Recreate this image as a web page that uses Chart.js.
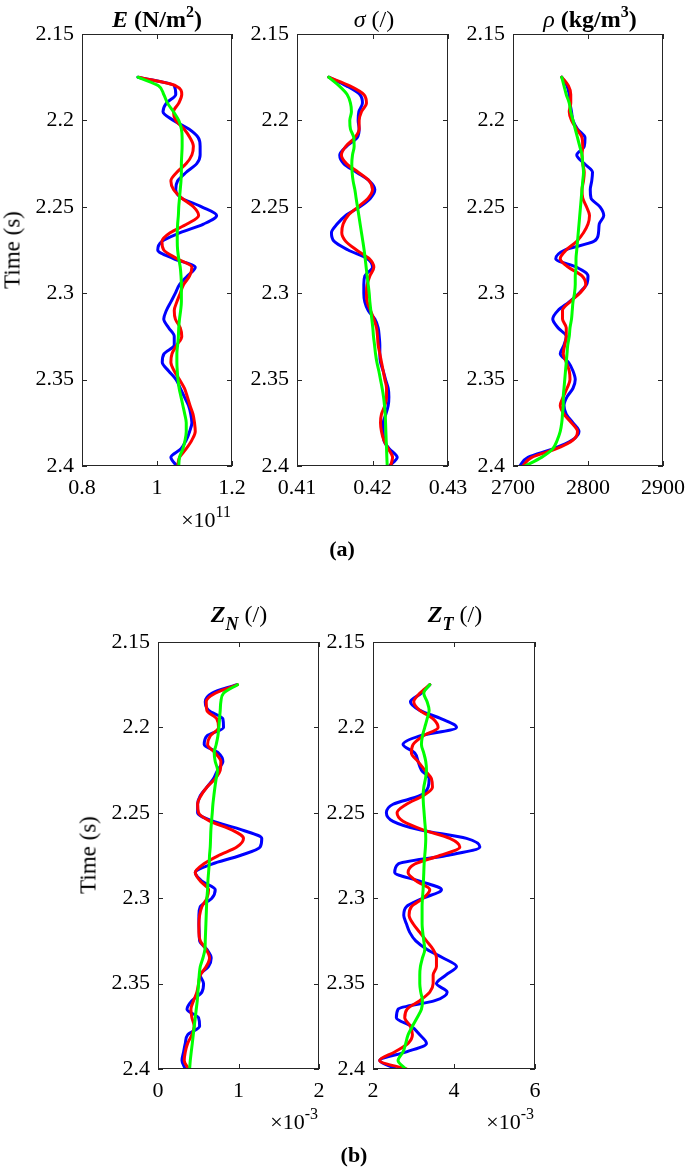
<!DOCTYPE html>
<html>
<head>
<meta charset="utf-8">
<script src="https://cdn.jsdelivr.net/npm/chart.js@4.4.1/dist/chart.umd.min.js"></script>
<style>
  html, body { margin: 0; padding: 0; background: #fff; }
  #page {
    position: relative; width: 685px; height: 1169px; overflow: hidden;
    font-family: 'Liberation Serif', 'Times New Roman', serif; color: #000;
  }
  canvas { position: absolute; }
  .note { position: absolute; white-space: nowrap; line-height: 22px; font-size: 22px; }
  .ttl { position: absolute; white-space: nowrap; line-height: 24px; font-size: 24px; transform: translateX(-50%); }
  .center { transform: translateX(-50%); }
  .right { transform: translateX(-100%); }
  .sup { font-size: 16px; position: relative; top: -10px; }
  .sub { font-size: 18px; position: relative; top: 8px; }
  .ylab { position: absolute; white-space: nowrap; font-size: 23px; line-height: 23px;
          transform: translate(-50%, -50%) rotate(-90deg); }
</style>
</head>
<body>
<div id="page">
  <canvas id="cE"></canvas>
  <canvas id="cSigma"></canvas>
  <canvas id="cRho"></canvas>
  <canvas id="cZn"></canvas>
  <canvas id="cZt"></canvas>

  <div class="ttl" style="left:157px;top:7px;font-weight:bold"><i>E</i> (N/m<span class="sup">2</span>)</div>
  <div class="ttl" style="left:374px;top:7px"><i>σ</i> (/)</div>
  <div class="ttl" style="left:590px;top:7px"><i>ρ</i> <b>(kg/m<span class="sup">3</span>)</b></div>
  <div class="ttl" style="left:239px;top:602px"><b><i>Z</i><span class="sub"><i>N</i></span></b> (/)</div>
  <div class="ttl" style="left:455px;top:602px"><b><i>Z</i><span class="sub"><i>T</i></span></b> (/)</div>

  <div class="ylab" style="left:12px;top:250px">Time (s)</div>
  <div class="ylab" style="left:88px;top:855px">Time (s)</div>

  <div class="note right" style="left:231px;top:509px">×10<span class="sup">11</span></div>
  <div class="note right" style="left:318px;top:1111px">×10<span class="sup">-3</span></div>
  <div class="note right" style="left:534px;top:1111px">×10<span class="sup">-3</span></div>

  <div class="note center" style="left:342px;top:538px;font-weight:bold">(a)</div>
  <div class="note center" style="left:354px;top:1144px;font-weight:bold">(b)</div>
</div>

<script>
// ---- data ---------------------------------------------------------------
const timeS = [2.175, 2.18, 2.185, 2.19, 2.195, 2.2, 2.205, 2.21, 2.215, 2.22,
  2.225, 2.23, 2.235, 2.24, 2.245, 2.25, 2.255, 2.26, 2.265, 2.27,
  2.275, 2.28, 2.285, 2.29, 2.295, 2.3, 2.305, 2.31, 2.315, 2.32,
  2.325, 2.33, 2.335, 2.34, 2.345, 2.35, 2.355, 2.36, 2.365, 2.37,
  2.375, 2.38, 2.385, 2.39, 2.395, 2.4];
const timeTicks = [2.15, 2.2, 2.25, 2.3, 2.35, 2.4];
const timeLabels = ['2.15', '2.2', '2.25', '2.3', '2.35', '2.4'];

// E in units of 1e11 N/m^2
const eBlue = [0.949, 1.046, 1.050, 1.025, 1.016, 1.044, 1.085, 1.110, 1.115, 1.115,
  1.106, 1.078, 1.055, 1.050, 1.066, 1.119, 1.159, 1.124, 1.062, 1.013,
  1.002, 1.044, 1.102, 1.081, 1.060, 1.049, 1.037, 1.025, 1.018, 1.031,
  1.046, 1.046, 1.019, 1.014, 1.031, 1.051, 1.062, 1.073, 1.084, 1.090,
  1.093, 1.087, 1.078, 1.064, 1.037, 1.053];
const eRed = [0.951, 1.050, 1.066, 1.058, 1.044, 1.050, 1.072, 1.088, 1.097, 1.093,
  1.078, 1.053, 1.037, 1.044, 1.066, 1.097, 1.111, 1.080, 1.035, 1.013,
  1.018, 1.053, 1.093, 1.087, 1.071, 1.062, 1.053, 1.046, 1.049, 1.062,
  1.066, 1.053, 1.040, 1.037, 1.046, 1.060, 1.073, 1.081, 1.088, 1.096,
  1.100, 1.102, 1.093, 1.078, 1.060, 1.055];
const eGreen = [0.949, 1.004, 1.018, 1.028, 1.044, 1.058, 1.065, 1.067, 1.067, 1.066,
  1.065, 1.065, 1.064, 1.062, 1.060, 1.058, 1.057, 1.055, 1.054, 1.054,
  1.055, 1.058, 1.062, 1.064, 1.065, 1.065, 1.065, 1.063, 1.060, 1.058,
  1.057, 1.055, 1.053, 1.053, 1.054, 1.056, 1.059, 1.064, 1.069, 1.074,
  1.078, 1.078, 1.075, 1.069, 1.060, 1.058];
const eTicks = [0.8, 1, 1.2];
const eLabels = ['0.8', '1', '1.2'];

const sigmaBlue = [0.41420, 0.41655, 0.41832, 0.41867, 0.41819, 0.41810, 0.41823, 0.41797, 0.41655, 0.41566,
  0.41619, 0.41788, 0.41956, 0.42031, 0.41973, 0.41832, 0.41646, 0.41531, 0.41456, 0.41491,
  0.41677, 0.41929, 0.42000, 0.41898, 0.41885, 0.41885, 0.41898, 0.41943, 0.42031, 0.42075,
  0.42089, 0.42097, 0.42097, 0.42106, 0.42142, 0.42173, 0.42208, 0.42217, 0.42208, 0.42177,
  0.42142, 0.42142, 0.42150, 0.42221, 0.42327, 0.42221];
const sigmaRed = [0.41420, 0.41699, 0.41885, 0.41920, 0.41854, 0.41823, 0.41823, 0.41766, 0.41646, 0.41588,
  0.41655, 0.41810, 0.41956, 0.42000, 0.41943, 0.41810, 0.41677, 0.41611, 0.41593, 0.41646,
  0.41788, 0.41956, 0.42018, 0.41965, 0.41929, 0.41920, 0.41929, 0.41973, 0.42018, 0.42053,
  0.42066, 0.42075, 0.42097, 0.42119, 0.42142, 0.42164, 0.42186, 0.42186, 0.42164, 0.42119,
  0.42106, 0.42119, 0.42150, 0.42208, 0.42266, 0.42239];
const sigmaGreen = [0.41420, 0.41558, 0.41664, 0.41708, 0.41721, 0.41699, 0.41708, 0.41752, 0.41757, 0.41735,
  0.41726, 0.41730, 0.41743, 0.41766, 0.41783, 0.41801, 0.41819, 0.41836, 0.41854, 0.41872,
  0.41889, 0.41903, 0.41916, 0.41929, 0.41943, 0.41956, 0.41965, 0.41978, 0.41991, 0.42004,
  0.42013, 0.42027, 0.42040, 0.42058, 0.42084, 0.42106, 0.42128, 0.42146, 0.42159, 0.42168,
  0.42173, 0.42177, 0.42181, 0.42186, 0.42190, 0.42195];
const sigmaTicks = [0.41, 0.42, 0.43];
const sigmaLabels = ['0.41', '0.42', '0.43'];

// density, kg/m^3
const rhoBlue = [2765, 2772, 2775, 2776, 2778, 2780, 2786, 2796, 2795, 2785,
  2795, 2806, 2805, 2803, 2804, 2816, 2821, 2815, 2814, 2808,
  2769, 2757, 2785, 2800, 2798, 2788, 2775, 2760, 2753, 2760,
  2771, 2768, 2763, 2774, 2780, 2783, 2780, 2772, 2768, 2771,
  2780, 2788, 2779, 2754, 2720, 2709];
const rhoRed = [2765, 2774, 2777, 2777, 2775, 2778, 2785, 2792, 2793, 2792,
  2793, 2795, 2794, 2792, 2793, 2798, 2802, 2800, 2794, 2785,
  2771, 2763, 2774, 2792, 2797, 2789, 2776, 2766, 2766, 2771,
  2771, 2769, 2767, 2771, 2775, 2776, 2772, 2767, 2763, 2768,
  2778, 2786, 2780, 2758, 2725, 2713];
const rhoGreen = [2765, 2768, 2771, 2775, 2777, 2780, 2783, 2786, 2789, 2792,
  2793, 2794, 2793, 2792, 2791, 2790, 2789, 2788, 2787, 2786,
  2785, 2784, 2784, 2783, 2783, 2782, 2780, 2779, 2778, 2776,
  2775, 2773, 2772, 2771, 2770, 2769, 2768, 2767, 2767, 2766,
  2765, 2763, 2759, 2753, 2738, 2716];
const rhoTicks = [2700, 2800, 2900];
const rhoLabels = ['2700', '2800', '2900'];

// Z_N and Z_T in units of 1e-3
const znBlue = [0.979, 0.669, 0.587, 0.628, 0.806, 0.814, 0.607, 0.574, 0.752, 0.806,
  0.740, 0.690, 0.607, 0.525, 0.492, 0.492, 0.690, 1.041, 1.289, 1.269,
  1.021, 0.669, 0.463, 0.545, 0.711, 0.669, 0.525, 0.508, 0.508, 0.512,
  0.517, 0.607, 0.661, 0.628, 0.525, 0.566, 0.545, 0.421, 0.360, 0.504,
  0.517, 0.368, 0.339, 0.318, 0.298, 0.339];
const znRed = [0.988, 0.711, 0.599, 0.607, 0.731, 0.752, 0.649, 0.616, 0.711, 0.781,
  0.773, 0.711, 0.607, 0.533, 0.492, 0.504, 0.649, 0.917, 1.062, 0.979,
  0.752, 0.566, 0.463, 0.525, 0.628, 0.607, 0.545, 0.517, 0.508, 0.508,
  0.525, 0.599, 0.640, 0.599, 0.525, 0.504, 0.483, 0.442, 0.409, 0.421,
  0.450, 0.421, 0.368, 0.339, 0.326, 0.380];
const znGreen = [0.988, 0.814, 0.781, 0.773, 0.764, 0.756, 0.744, 0.723, 0.698, 0.711,
  0.740, 0.723, 0.707, 0.694, 0.682, 0.674, 0.665, 0.657, 0.653, 0.649,
  0.640, 0.636, 0.628, 0.620, 0.616, 0.607, 0.603, 0.599, 0.595, 0.591,
  0.587, 0.583, 0.558, 0.525, 0.512, 0.504, 0.496, 0.488, 0.475, 0.463,
  0.450, 0.438, 0.426, 0.413, 0.401, 0.393];
const znTicks = [0, 1, 2];
const znLabels = ['0', '1', '2'];

const ztBlue = [3.402, 3.196, 2.924, 3.155, 3.691, 4.062, 3.155, 2.742, 3.031, 3.113,
  3.196, 3.386, 3.361, 3.155, 2.495, 2.330, 2.495, 3.155, 4.309, 4.639,
  3.814, 2.619, 2.536, 3.155, 3.691, 3.237, 2.825, 2.759, 2.825, 2.907,
  3.056, 3.336, 3.732, 4.062, 3.798, 3.567, 3.831, 3.526, 2.619, 2.577,
  2.948, 3.155, 3.320, 2.825, 2.165, 2.577];
const ztRed = [3.402, 3.155, 3.006, 3.155, 3.485, 3.608, 3.237, 2.990, 2.948, 3.113,
  3.278, 3.443, 3.468, 3.237, 2.825, 2.594, 2.742, 3.237, 3.897, 4.144,
  3.649, 3.031, 2.866, 3.072, 3.402, 3.237, 2.948, 2.891, 2.990, 3.155,
  3.320, 3.485, 3.567, 3.567, 3.485, 3.485, 3.402, 3.155, 2.841, 2.784,
  2.924, 2.973, 2.866, 2.536, 2.165, 2.825];
const ztGreen = [3.402, 3.254, 3.336, 3.386, 3.336, 3.278, 3.221, 3.196, 3.254, 3.303,
  3.320, 3.295, 3.254, 3.237, 3.245, 3.262, 3.278, 3.295, 3.303, 3.295,
  3.278, 3.262, 3.254, 3.245, 3.237, 3.221, 3.212, 3.212, 3.212, 3.229,
  3.254, 3.278, 3.221, 3.171, 3.155, 3.155, 3.179, 3.221, 3.196, 3.089,
  2.973, 2.866, 2.808, 2.742, 2.619, 2.808];
const ztTicks = [2, 4, 6];
const ztLabels = ['2', '4', '6'];

// ---- styling ------------------------------------------------------------
const COLORS = { blue: '#0000ff', red: '#ff0000', green: '#00ff00', axis: '#262626', text: '#000' };
const TICK_FONT = { family: "'Liberation Serif', 'Times New Roman', serif", size: 22 };
const LINE_W = 3;
const ML = 80, MR = 34, MT = 14, MB = 44;   // canvas margins around the plot area

// MATLAB-like box with inward ticks on all four sides
const boxPlugin = {
  id: 'matlabBox',
  afterDatasetsDraw(chart) {
    const { ctx, chartArea: a, scales } = chart;
    const tl = 5;
    ctx.save();
    ctx.strokeStyle = COLORS.axis;
    ctx.lineWidth = 1;
    ctx.strokeRect(a.left + 0.5, a.top + 0.5, a.right - a.left - 1, a.bottom - a.top - 1);
    ctx.beginPath();
    scales.x.ticks.forEach((t) => {
      const px = Math.round(scales.x.getPixelForValue(t.value)) + 0.5;
      ctx.moveTo(px, a.bottom); ctx.lineTo(px, a.bottom - tl);
      ctx.moveTo(px, a.top); ctx.lineTo(px, a.top + tl);
    });
    scales.y.ticks.forEach((t) => {
      const py = Math.round(scales.y.getPixelForValue(t.value)) + 0.5;
      ctx.moveTo(a.left, py); ctx.lineTo(a.left + tl, py);
      ctx.moveTo(a.right, py); ctx.lineTo(a.right - tl, py);
    });
    ctx.stroke();
    ctx.restore();
  },
};

function series(vals, color) {
  return {
    data: timeS.map((t, i) => ({ x: vals[i], y: t })),
    borderColor: color,
    borderWidth: LINE_W,
    pointRadius: 0,
    fill: false,
    cubicInterpolationMode: 'monotone',
    borderJoinStyle: 'round',
    borderCapStyle: 'round',
  };
}

function buildPanel(id, area, xTicks, xLabels, blue, red, green) {
  const canvas = document.getElementById(id);
  const w = area.width + ML + MR;
  const h = area.height + MT + MB;
  canvas.width = w;
  canvas.height = h;
  canvas.style.left = (area.left - ML) + 'px';
  canvas.style.top = (area.top - MT) + 'px';
  canvas.style.width = w + 'px';
  canvas.style.height = h + 'px';

  new Chart(canvas, {
    type: 'line',
    data: { datasets: [series(green, COLORS.green), series(red, COLORS.red), series(blue, COLORS.blue)] },
    options: {
      indexAxis: 'y',
      responsive: false,
      animation: false,
      events: [],
      layout: { padding: { left: 0, right: MR, top: MT, bottom: 0 } },
      plugins: { legend: { display: false }, tooltip: { enabled: false } },
      scales: {
        x: {
          type: 'linear',
          position: 'bottom',
          min: xTicks[0],
          max: xTicks[xTicks.length - 1],
          grid: { display: false, drawTicks: false },
          border: { display: false },
          afterBuildTicks: (s) => { s.ticks = xTicks.map((v) => ({ value: v })); },
          afterFit: (s) => { s.height = MB; s.paddingLeft = 0; s.paddingRight = 0; },
          ticks: {
            callback: (v, i) => xLabels[i],
            font: TICK_FONT, color: COLORS.text, padding: 9,
            autoSkip: false, maxRotation: 0, minRotation: 0,
          },
        },
        y: {
          type: 'linear',
          position: 'left',
          reverse: true,
          min: timeTicks[0],
          max: timeTicks[timeTicks.length - 1],
          grid: { display: false, drawTicks: false },
          border: { display: false },
          afterBuildTicks: (s) => { s.ticks = timeTicks.map((v) => ({ value: v })); },
          afterFit: (s) => { s.width = ML; s.paddingTop = 0; s.paddingBottom = 0; },
          ticks: {
            callback: (v, i) => timeLabels[i],
            font: TICK_FONT, color: COLORS.text, padding: 8, autoSkip: false,
          },
        },
      },
    },
    plugins: [boxPlugin],
  });
}

document.addEventListener('DOMContentLoaded', function () {
  buildPanel('cE', { left: 82, top: 34, width: 150, height: 432 }, eTicks, eLabels, eBlue, eRed, eGreen);
  buildPanel('cSigma', { left: 297, top: 34, width: 151, height: 432 }, sigmaTicks, sigmaLabels, sigmaBlue, sigmaRed, sigmaGreen);
  buildPanel('cRho', { left: 513, top: 34, width: 150, height: 432 }, rhoTicks, rhoLabels, rhoBlue, rhoRed, rhoGreen);
  buildPanel('cZn', { left: 158, top: 642, width: 161, height: 427 }, znTicks, znLabels, znBlue, znRed, znGreen);
  buildPanel('cZt', { left: 373, top: 642, width: 162, height: 427 }, ztTicks, ztLabels, ztBlue, ztRed, ztGreen);
});
</script>
</body>
</html>
